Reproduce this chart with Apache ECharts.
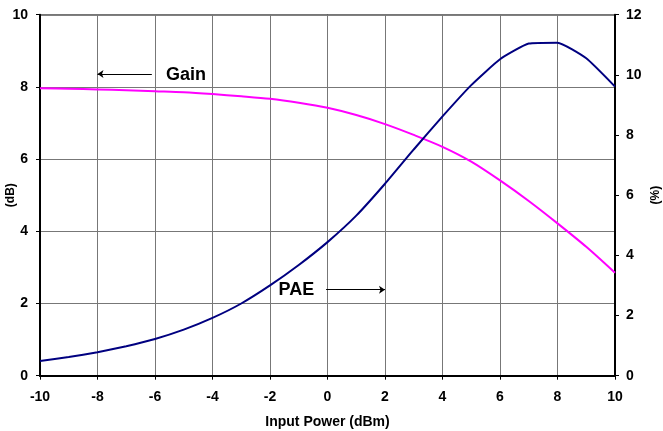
<!DOCTYPE html>
<html>
<head>
<meta charset="utf-8">
<script src="https://cdn.jsdelivr.net/npm/echarts@6/dist/echarts.min.js"></script>
<style>html,body{margin:0;padding:0;background:#fff}#c{width:663px;height:431px}</style>
</head>
<body>
<div id="c"></div>
<script>
const inputPower = [-10,-9,-8,-7,-6,-5,-4,-3,-2,-1,0,1,2,3,4,5,6,7,8,9,10];
const gainDb = [7.96,7.95,7.93,7.91,7.88,7.85,7.80,7.74,7.67,7.56,7.42,7.22,6.97,6.67,6.34,5.93,5.41,4.84,4.22,3.57,2.85];
const paePct = [0.49,0.62,0.78,0.98,1.22,1.53,1.92,2.40,3.00,3.68,4.44,5.32,6.38,7.52,8.62,9.66,10.52,11.04,11.07,10.55,9.61];
const xTicks = {min:-10, max:10, step:2};
const leftTicks = {min:0, max:10, step:2};
const rightTicks = {min:0, max:12, step:2};

const font = 'Liberation Sans, Arial, sans-serif';
const lbl = {color:'#000', fontFamily:font, fontWeight:'bold', fontSize:14};
const ttl = {color:'#000', fontFamily:font, fontWeight:'bold'};

const chart = echarts.init(document.getElementById('c'), null, {renderer:'canvas'});
chart.setOption({
  animation:false,
  backgroundColor:'#fff',
  grid:{left:40, right:48, top:14.7, bottom:55.3, show:true, borderColor:'#000', borderWidth:1.5,
        containLabel:false, outerBoundsMode:'none'},
  xAxis:{
    type:'value', min:xTicks.min, max:xTicks.max, interval:xTicks.step,
    name:'Input Power (dBm)', nameLocation:'middle', nameGap:39, nameMoveOverlap:false,
    nameTextStyle:Object.assign({fontSize:14}, ttl),
    axisLine:{onZero:false, lineStyle:{color:'#000', width:2}},
    axisTick:{show:true, length:4, lineStyle:{color:'#000'}},
    axisLabel:Object.assign({margin:14}, lbl),
    splitLine:{show:true, lineStyle:{color:'#777', width:1}}
  },
  yAxis:[{
    type:'value', min:leftTicks.min, max:leftTicks.max, interval:leftTicks.step,
    position:'left',
    name:'(dB)', nameLocation:'middle', nameGap:23, nameRotate:90, nameMoveOverlap:false,
    nameTextStyle:Object.assign({fontSize:12}, ttl),
    axisLine:{show:true, onZero:false, lineStyle:{color:'#000', width:2}},
    axisTick:{show:true, length:4, lineStyle:{color:'#000'}},
    axisLabel:Object.assign({margin:12}, lbl),
    splitLine:{show:true, lineStyle:{color:'#777', width:1}}
  },{
    type:'value', min:rightTicks.min, max:rightTicks.max, interval:rightTicks.step,
    position:'right',
    name:'(%)', nameLocation:'middle', nameGap:35, nameRotate:90, nameMoveOverlap:false,
    nameTextStyle:Object.assign({fontSize:12}, ttl),
    axisLine:{show:true, onZero:false, lineStyle:{color:'#000', width:2}},
    axisTick:{show:true, length:4, lineStyle:{color:'#000'}},
    axisLabel:Object.assign({margin:11}, lbl),
    splitLine:{show:false}
  }],
  series:[{
    name:'Gain', type:'line', yAxisIndex:0,
    data:inputPower.map((x,i)=>[x,gainDb[i]]),
    showSymbol:false, smooth:0.3,
    lineStyle:{color:'#FF00FF', width:2},
    markLine:{
      silent:true, symbol:['none','arrow'], symbolSize:6,
      lineStyle:{color:'#000', width:1, type:'solid'},
      itemStyle:{color:'#000'},
      label:{show:false},
      data:[[{coord:[-6.11,8.36]},{coord:[-8.0,8.36]}]]
    },
    markPoint:{
      silent:true, symbol:'rect', symbolSize:1,
      itemStyle:{color:'rgba(0,0,0,0)'},
      label:{show:true, position:'inside', formatter:'Gain', color:'#000', fontFamily:font, fontWeight:'bold', fontSize:18},
      data:[{coord:[-4.92,8.33]}]
    }
  },{
    name:'PAE', type:'line', yAxisIndex:1,
    data:inputPower.map((x,i)=>[x,paePct[i]]),
    showSymbol:false, smooth:0.15,
    lineStyle:{color:'#000080', width:2},
    markLine:{
      silent:true, symbol:['none','arrow'], symbolSize:6,
      lineStyle:{color:'#000', width:1, type:'solid'},
      itemStyle:{color:'#000'},
      label:{show:false},
      data:[[{coord:[-0.05,2.86]},{coord:[2.0,2.86]}]]
    },
    markPoint:{
      silent:true, symbol:'rect', symbolSize:1,
      itemStyle:{color:'rgba(0,0,0,0)'},
      label:{show:true, position:'inside', formatter:'PAE', color:'#000', fontFamily:font, fontWeight:'bold', fontSize:18},
      data:[{coord:[-1.08,2.85]}]
    }
  }]
});
</script>
</body>
</html>
